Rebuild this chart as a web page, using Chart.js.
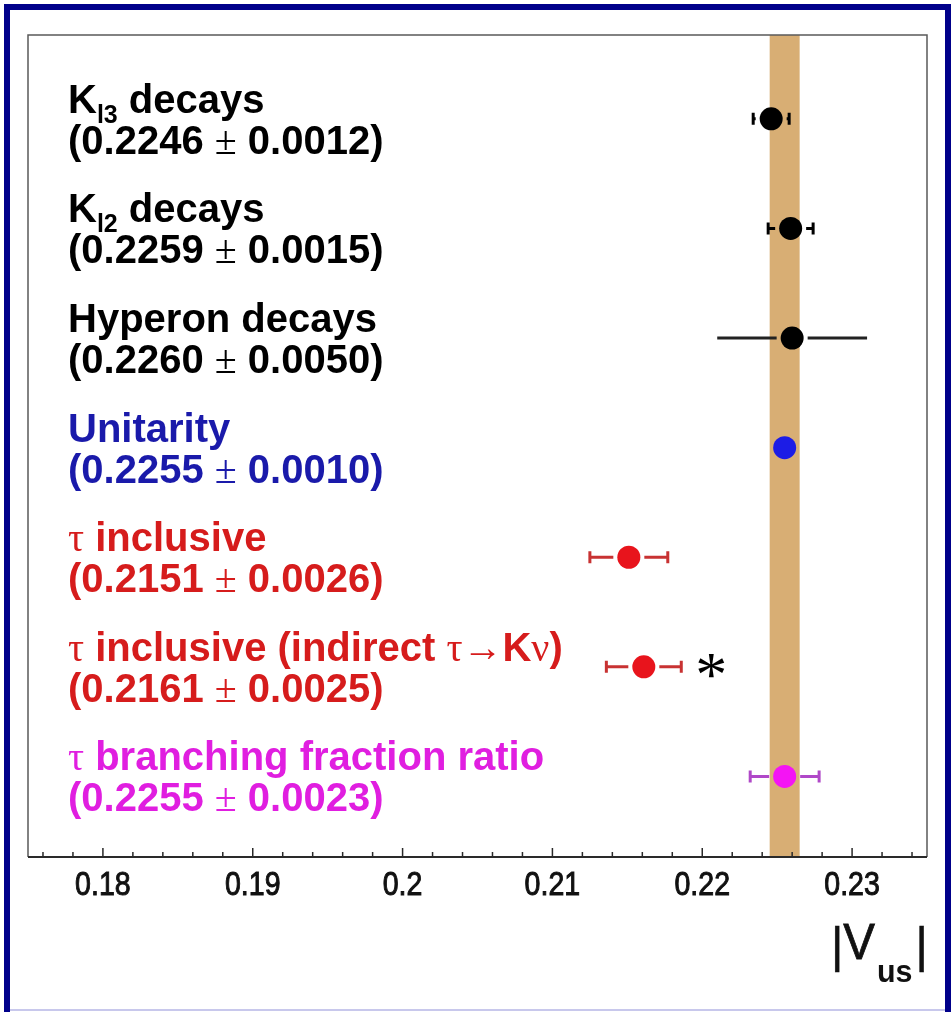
<!DOCTYPE html>
<html>
<head>
<meta charset="utf-8">
<script src="https://cdn.jsdelivr.net/npm/chart.js@4.4.0/dist/chart.umd.min.js"></script>
<style>
html,body{margin:0;padding:0;background:#fff;overflow:hidden}
#wrap{width:952px;height:1012px;position:relative}
canvas{display:block}
</style>
</head>
<body>
<div id="wrap"><canvas id="c" width="952" height="1012"></canvas></div>
<script>
// ---- data ----
const categories = ['K_{l3} decays', 'K_{l2} decays', 'Hyperon decays', 'Unitarity',
  'τ inclusive', 'τ inclusive (indirect τ→Kν)', 'τ branching fraction ratio'];
const values = [0.2246, 0.2259, 0.2260, 0.2255, 0.2151, 0.2161, 0.2255];
const errors = [0.0012, 0.0015, 0.0050, 0.0010, 0.0026, 0.0025, 0.0023];
const tickValues = [0.18, 0.19, 0.20, 0.21, 0.22, 0.23];
const tickLabels = ['0.18', '0.19', '0.2', '0.21', '0.22', '0.23'];
const minorTickValues = [0.176,0.178,0.182,0.184,0.186,0.188,0.192,0.194,0.196,0.198,
  0.202,0.204,0.206,0.208,0.212,0.214,0.216,0.218,0.222,0.224,0.226,0.228,0.232,0.234];
const bandValue = 0.2255;
const bandError = 0.0010;
const starredRows = [5];
const axisTitle = ['|', 'V', 'us', '|'];

// ---- styles ----
const textColors = ['#000000','#000000','#000000','#1a1aaa','#d61c1c','#d61c1c','#e01ee0'];
const markerColors = ['#000000','#000000','#000000','#1c1ce6','#e8141c','#e8141c','#f414f4'];
const barColors = ['#000000','#000000','#222222','#1c1ce6','#c83232','#c83232','#b048c8'];
const showCaps = [true, true, false, false, true, true, true];

const R = 11.5, GAP = 4;
const SANS = '"Liberation Sans", Arial, sans-serif';

function drawRich(ctx, str, x, y, size, color) {
  const re = /_\{([^}]*)\}|([τ→ν±])|([^_τ→ν±]+)/g;
  let m;
  ctx.fillStyle = color;
  ctx.textBaseline = 'alphabetic';
  ctx.textAlign = 'left';
  while ((m = re.exec(str)) !== null) {
    if (m[1] !== undefined) {
      ctx.font = `bold ${Math.round(size*0.62)}px ${SANS}`;
      ctx.fillText(m[1], x, y + 10);
      x += ctx.measureText(m[1]).width;
    } else if (m[2] !== undefined) {
      ctx.font = `${size}px "Liberation Serif", "Times New Roman", serif`;
      ctx.fillText(m[2], x, y);
      x += ctx.measureText(m[2]).width;
    } else {
      ctx.font = `bold ${size}px ${SANS}`;
      ctx.fillText(m[3], x, y);
      x += ctx.measureText(m[3]).width;
    }
  }
}

// condensed text: draws text squeezed horizontally, returns drawn width
function drawCondensed(ctx, text, x, y, font, align, k, stroke) {
  ctx.save();
  ctx.font = font;
  const w = ctx.measureText(text).width * k;
  let left = x;
  if (align === 'center') left = x - w / 2;
  ctx.translate(left, y);
  ctx.scale(k, 1);
  ctx.textAlign = 'left';
  ctx.textBaseline = 'alphabetic';
  ctx.fillText(text, 0, 0);
  if (stroke) {
    ctx.strokeStyle = ctx.fillStyle;
    ctx.lineWidth = stroke;
    ctx.strokeText(text, 0, 0);
  }
  ctx.restore();
  return w;
}

const decorPlugin = {
  id: 'decor',
  beforeDraw(chart) {
    const ctx = chart.ctx;
    ctx.save();
    ctx.fillStyle = '#ffffff';
    ctx.fillRect(0, 0, chart.width, chart.height);
    ctx.fillStyle = '#00008a';
    ctx.fillRect(4, 4, 947, 6);
    ctx.fillRect(4, 4, 6, 1008);
    ctx.fillRect(945, 4, 6, 1008);
    ctx.fillStyle = '#c8c8ec';
    ctx.fillRect(10, 1009, 935, 2);
    ctx.restore();
  },
  beforeDatasetsDraw(chart) {
    const ctx = chart.ctx, a = chart.chartArea, xs = chart.scales.x, ys = chart.scales.y;
    ctx.save();
    const b0 = xs.getPixelForValue(bandValue - bandError);
    const b1 = xs.getPixelForValue(bandValue + bandError);
    ctx.fillStyle = '#d8ae74';
    ctx.fillRect(b0, a.top, b1 - b0, a.bottom - a.top);
    ctx.strokeStyle = '#5a5a5a';
    ctx.lineWidth = 1.5;
    ctx.beginPath();
    ctx.moveTo(a.left, a.bottom); ctx.lineTo(a.left, a.top);
    ctx.lineTo(a.right, a.top); ctx.lineTo(a.right, a.bottom);
    ctx.stroke();
    ctx.strokeStyle = '#2a2a2a';
    ctx.lineWidth = 2;
    ctx.beginPath();
    ctx.moveTo(a.left, a.bottom); ctx.lineTo(a.right, a.bottom);
    ctx.stroke();
    ctx.lineWidth = 1.5;
    ctx.beginPath();
    tickValues.forEach(v => { const p = xs.getPixelForValue(v); ctx.moveTo(p, a.bottom); ctx.lineTo(p, a.bottom - 9); });
    minorTickValues.forEach(v => { const p = xs.getPixelForValue(v); ctx.moveTo(p, a.bottom); ctx.lineTo(p, a.bottom - 5); });
    ctx.stroke();
    // tick labels
    ctx.fillStyle = '#111';
    tickValues.forEach((v, i) => {
      drawCondensed(ctx, tickLabels[i], xs.getPixelForValue(v), a.bottom + 38, `34px ${SANS}`, 'center', 0.84, 1);
    });
    // error bars
    values.forEach((v, i) => {
      const cx = xs.getPixelForValue(v), cy = ys.getPixelForValue(i);
      const lo = xs.getPixelForValue(v - errors[i]), hi = xs.getPixelForValue(v + errors[i]);
      ctx.strokeStyle = barColors[i];
      ctx.lineWidth = 3;
      ctx.beginPath();
      if (cx - lo > R + GAP) {
        ctx.moveTo(lo, cy); ctx.lineTo(cx - R - GAP, cy);
        ctx.moveTo(cx + R + GAP, cy); ctx.lineTo(hi, cy);
      }
      if (showCaps[i]) {
        ctx.moveTo(lo, cy - 6); ctx.lineTo(lo, cy + 6);
        ctx.moveTo(hi, cy - 6); ctx.lineTo(hi, cy + 6);
      }
      ctx.stroke();
    });
    ctx.restore();
  },
  afterDraw(chart) {
    const ctx = chart.ctx, xs = chart.scales.x, ys = chart.scales.y;
    ctx.save();
    categories.forEach((c, i) => {
      const cy = ys.getPixelForValue(i);
      drawRich(ctx, c, 68, cy - 6, 40, textColors[i]);
      const line2 = '(' + values[i].toFixed(4) + ' ± ' + errors[i].toFixed(4) + ')';
      drawRich(ctx, line2, 68, cy + 35, 40, textColors[i]);
    });
    starredRows.forEach(i => {
      const cy = ys.getPixelForValue(i);
      const hi = xs.getPixelForValue(values[i] + errors[i]);
      ctx.fillStyle = '#000';
      ctx.font = '64px "Liberation Serif", serif';
      ctx.textAlign = 'center';
      ctx.textBaseline = 'alphabetic';
      ctx.fillText('*', hi + 30, cy + 29);
    });
    // axis title |V_us|
    ctx.fillStyle = '#111';
    let x = 831;
    x += drawCondensed(ctx, axisTitle[0], x, 962, `50px ${SANS}`, 'left', 0.95, 0.6);
    x += drawCondensed(ctx, axisTitle[1], x, 959, `50px ${SANS}`, 'left', 0.95, 0.8) + 2;
    x += drawCondensed(ctx, axisTitle[2], x, 982, `bold 32px ${SANS}`, 'left', 0.95, 0) + 3;
    drawCondensed(ctx, axisTitle[3], x, 962, `50px ${SANS}`, 'left', 0.95, 0.6);
    ctx.restore();
  }
};

new Chart(document.getElementById('c'), {
  type: 'scatter',
  data: {
    datasets: [{
      data: values.map((v, i) => ({ x: v, y: i })),
      pointRadius: R,
      pointBackgroundColor: markerColors,
      pointBorderWidth: 0,
      pointBorderColor: markerColors,
      showLine: false
    }]
  },
  options: {
    responsive: false,
    animation: false,
    events: [],
    layout: { padding: { left: 28, right: 25, top: 35, bottom: 0 } },
    plugins: { legend: { display: false }, tooltip: { enabled: false } },
    scales: {
      x: {
        type: 'linear', min: 0.175, max: 0.235, position: 'bottom',
        afterFit(s) { s.height = 155; },
        afterBuildTicks(s) { s.ticks = tickValues.map(v => ({ value: v })); },
        ticks: { display: false },
        grid: { display: false, drawTicks: false },
        border: { display: false }
      },
      y: { type: 'linear', min: -0.765, max: 6.735, reverse: true, display: false }
    }
  },
  plugins: [decorPlugin]
});
</script>
</body>
</html>
